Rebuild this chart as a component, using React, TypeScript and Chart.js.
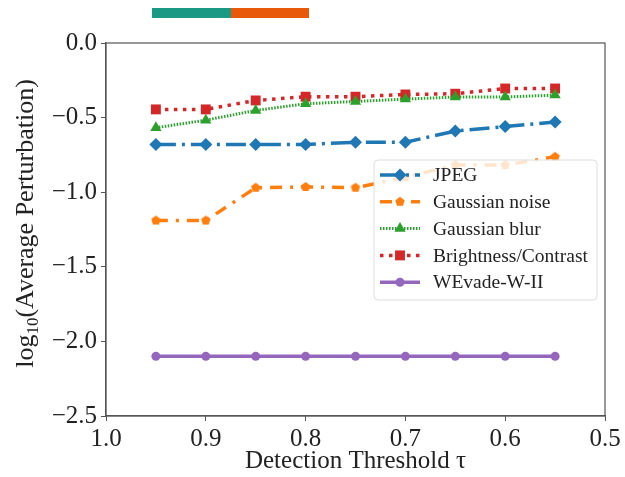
import React, { useEffect, useRef } from "react";
import { Chart, registerables } from "chart.js";

Chart.register(...registerables);

const thresholds = [0.95, 0.9, 0.85, 0.8, 0.75, 0.7, 0.65, 0.6, 0.55];
const jpeg = [-0.68, -0.68, -0.68, -0.68, -0.665, -0.665, -0.59, -0.56, -0.53];
const gaussianNoise = [-1.19, -1.19, -0.97, -0.965, -0.97, -0.9, -0.818, -0.818, -0.763];
const gaussianBlur = [-0.568, -0.517, -0.452, -0.407, -0.392, -0.376, -0.362, -0.362, -0.349];
const brightness = [-0.445, -0.445, -0.385, -0.36, -0.36, -0.345, -0.34, -0.305, -0.305];
const wevade = [-2.1, -2.1, -2.1, -2.1, -2.1, -2.1, -2.1, -2.1, -2.1];
const seriesNames = ["JPEG", "Gaussian noise", "Gaussian blur", "Brightness/Contrast", "WEvade-W-II"];
const xTicks = [1.0, 0.9, 0.8, 0.7, 0.6, 0.5];
const yTicks = [0, -0.5, -1.0, -1.5, -2.0, -2.5];

const FONT = "'Liberation Serif', 'Times New Roman', serif";

function makePentagon(color: string, r: number) {
  const c = document.createElement("canvas");
  const s = Math.ceil(r * 2 + 2);
  c.width = s;
  c.height = s;
  const ctx = c.getContext("2d")!;
  ctx.fillStyle = color;
  ctx.beginPath();
  for (let i = 0; i < 5; i++) {
    const a = -Math.PI / 2 + (i * 2 * Math.PI) / 5;
    const px = s / 2 + r * Math.cos(a);
    const py = s / 2 + r * Math.sin(a);
    if (i === 0) ctx.moveTo(px, py);
    else ctx.lineTo(px, py);
  }
  ctx.closePath();
  ctx.fill();
  return c;
}

function drawMarker(ctx: CanvasRenderingContext2D, style: any, x: number, y: number, r: number, color: string) {
  ctx.save();
  ctx.fillStyle = color;
  ctx.setLineDash([]);
  if (style instanceof HTMLCanvasElement) {
    ctx.drawImage(style, x - style.width / 2, y - style.height / 2);
    ctx.restore();
    return;
  }
  ctx.beginPath();
  if (style === "rectRot") {
    ctx.moveTo(x - r, y);
    ctx.lineTo(x, y - r);
    ctx.lineTo(x + r, y);
    ctx.lineTo(x, y + r);
    ctx.closePath();
  } else if (style === "rect") {
    const s = Math.SQRT1_2 * r;
    ctx.rect(x - s, y - s, 2 * s, 2 * s);
  } else if (style === "triangle") {
    ctx.moveTo(x, y - r);
    ctx.lineTo(x + r * 0.866, y + r * 0.5);
    ctx.lineTo(x - r * 0.866, y + r * 0.5);
    ctx.closePath();
  } else {
    ctx.arc(x, y, r, 0, Math.PI * 2);
  }
  ctx.fill();
  ctx.restore();
}

const framePlugin = {
  id: "frame",
  afterDatasetsDraw(chart: any) {
    const { ctx, chartArea } = chart;
    const { left, right, top, bottom } = chartArea;
    // legend
    const lx = 374, ly = 160, lw = 223, lh = 140, rad = 4;
    ctx.save();
    ctx.beginPath();
    ctx.moveTo(lx + rad, ly);
    ctx.lineTo(lx + lw - rad, ly);
    ctx.quadraticCurveTo(lx + lw, ly, lx + lw, ly + rad);
    ctx.lineTo(lx + lw, ly + lh - rad);
    ctx.quadraticCurveTo(lx + lw, ly + lh, lx + lw - rad, ly + lh);
    ctx.lineTo(lx + rad, ly + lh);
    ctx.quadraticCurveTo(lx, ly + lh, lx, ly + lh - rad);
    ctx.lineTo(lx, ly + rad);
    ctx.quadraticCurveTo(lx, ly, lx + rad, ly);
    ctx.closePath();
    ctx.fillStyle = "rgba(255,255,255,0.8)";
    ctx.fill();
    ctx.strokeStyle = "#dddddd";
    ctx.lineWidth = 1;
    ctx.stroke();

    chart.data.datasets.forEach((ds: any, i: number) => {
      const cy = 175 + i * 26.8;
      ctx.save();
      ctx.strokeStyle = ds.borderColor;
      ctx.lineWidth = ds.borderWidth;
      ctx.setLineDash(ds.borderDash || []);
      ctx.beginPath();
      ctx.moveTo(380, cy);
      ctx.lineTo(420, cy);
      ctx.stroke();
      ctx.restore();
      drawMarker(ctx, ds.pointStyle, 400, cy, ds.pointRadius, ds.borderColor);
      ctx.save();
      ctx.fillStyle = "#222";
      ctx.font = `19.5px ${FONT}`;
      ctx.textBaseline = "middle";
      ctx.textAlign = "left";
      ctx.fillText(ds.label, 433, cy + 1);
      ctx.restore();
    });
    ctx.restore();

    // frame
    ctx.save();
    ctx.strokeStyle = "#555";
    ctx.lineWidth = 1.2;
    ctx.strokeRect(left, top, right - left, bottom - top);
    ctx.restore();
  },
  afterDraw(chart: any) {
    const { ctx, chartArea } = chart;
    const cy = (chartArea.top + chartArea.bottom) / 2 - 6;
    const cx = 25;
    ctx.save();
    ctx.translate(cx, cy);
    ctx.rotate(-Math.PI / 2);
    ctx.fillStyle = "#222";
    ctx.textBaseline = "alphabetic";
    ctx.textAlign = "left";
    const big = `26px ${FONT}`;
    const small = `17px ${FONT}`;
    ctx.font = big;
    const w1 = ctx.measureText("log").width;
    const w3 = ctx.measureText("(Average Perturbation)").width;
    ctx.font = small;
    const w2 = ctx.measureText("10").width;
    const total = w1 + w2 + w3;
    let x = -total / 2;
    const base = 8;
    ctx.font = big;
    ctx.fillText("log", x, base);
    x += w1;
    ctx.font = small;
    ctx.fillText("10", x, base + 5);
    x += w2;
    ctx.font = big;
    ctx.fillText("(Average Perturbation)", x, base);
    ctx.restore();
  },
};

export default function App() {
  const ref = useRef<HTMLCanvasElement | null>(null);
  useEffect(() => {
    if (!ref.current) return;
    const toPts = (arr: number[]) => arr.map((v, i) => ({ x: thresholds[i], y: v }));
    const pent = makePentagon("#ff7f0e", 5);
    const chart = new Chart(ref.current, {
      type: "line",
      data: {
        datasets: [
          {
            label: seriesNames[0],
            data: toPts(jpeg),
            borderColor: "#1f77b4",
            backgroundColor: "#1f77b4",
            borderWidth: 3.5,
            borderDash: [20, 6, 3, 6],
            pointStyle: "rectRot",
            pointRadius: 6.5,
            pointBorderWidth: 0,
          },
          {
            label: seriesNames[1],
            data: toPts(gaussianNoise),
            borderColor: "#ff7f0e",
            backgroundColor: "#ff7f0e",
            borderWidth: 3.5,
            borderDash: [12, 8, 3, 8],
            pointStyle: pent as any,
            pointRadius: 5,
            pointBorderWidth: 0,
          },
          {
            label: seriesNames[2],
            data: toPts(gaussianBlur),
            borderColor: "#2ca02c",
            backgroundColor: "#2ca02c",
            borderWidth: 3,
            borderDash: [1.5, 1.5],
            pointStyle: "triangle",
            pointRadius: 6.5,
            pointBorderWidth: 0,
          },
          {
            label: seriesNames[3],
            data: toPts(brightness),
            borderColor: "#d62728",
            backgroundColor: "#d62728",
            borderWidth: 3.5,
            borderDash: [3.5, 5.5],
            pointStyle: "rect",
            pointRadius: 7,
            pointBorderWidth: 0,
          },
          {
            label: seriesNames[4],
            data: toPts(wevade),
            borderColor: "#9467bd",
            backgroundColor: "#9467bd",
            borderWidth: 3.5,
            pointStyle: "circle",
            pointRadius: 4.5,
            pointBorderWidth: 0,
          },
        ],
      },
      options: {
        animation: false,
        responsive: false,
        layout: { padding: { top: 43, right: 20, left: 0, bottom: 0 } },
        plugins: {
          legend: { display: false },
          tooltip: { enabled: false },
        },
        scales: {
          x: {
            type: "linear",
            min: 0.5,
            max: 1.0,
            reverse: true,
            afterFit: (s: any) => {
              s.height = 61;
            },
            afterBuildTicks: (s: any) => {
              s.ticks = xTicks.map((v) => ({ value: v }));
            },
            ticks: {
              color: "#222",
              font: { family: FONT, size: 25 },
              padding: 3,
              maxRotation: 0,
              callback: (v: any) => Number(v).toFixed(1),
            },
            grid: { drawOnChartArea: false, drawTicks: true, tickLength: 5, tickColor: "#555" },
            border: { display: true, color: "#555", width: 1.2 },
            title: {
              display: true,
              text: "Detection Threshold τ",
              color: "#222",
              font: { family: FONT, size: 25 },
              padding: { top: 0, bottom: 1 },
            },
          },
          y: {
            type: "linear",
            min: -2.5,
            max: 0,
            afterFit: (s: any) => {
              s.width = 106;
            },
            afterBuildTicks: (s: any) => {
              s.ticks = yTicks.map((v) => ({ value: v }));
            },
            ticks: {
              color: "#222",
              font: { family: FONT, size: 25 },
              padding: 4,
              callback: (v: any) => {
                const n = Number(v);
                const s = Math.abs(n).toFixed(1);
                return n < 0 ? "\u2212" + s : s;
              },
            },
            grid: { drawOnChartArea: false, drawTicks: true, tickLength: 5, tickColor: "#555" },
            border: { display: true, color: "#555", width: 1.2 },
          },
        },
      },
      plugins: [framePlugin],
    });
    return () => chart.destroy();
  }, []);

  return (
    <div style={{ position: "absolute", left: 0, top: 0, width: 625, height: 477, background: "#fff" }}>
      <div style={{ position: "absolute", left: 152, top: 8, width: 79, height: 10, background: "#1a9985" }} />
      <div style={{ position: "absolute", left: 231, top: 8, width: 78, height: 10, background: "#e85a0a" }} />
      <canvas ref={ref} width={625} height={477} style={{ position: "absolute", left: 0, top: 0 }} />
    </div>
  );
}
